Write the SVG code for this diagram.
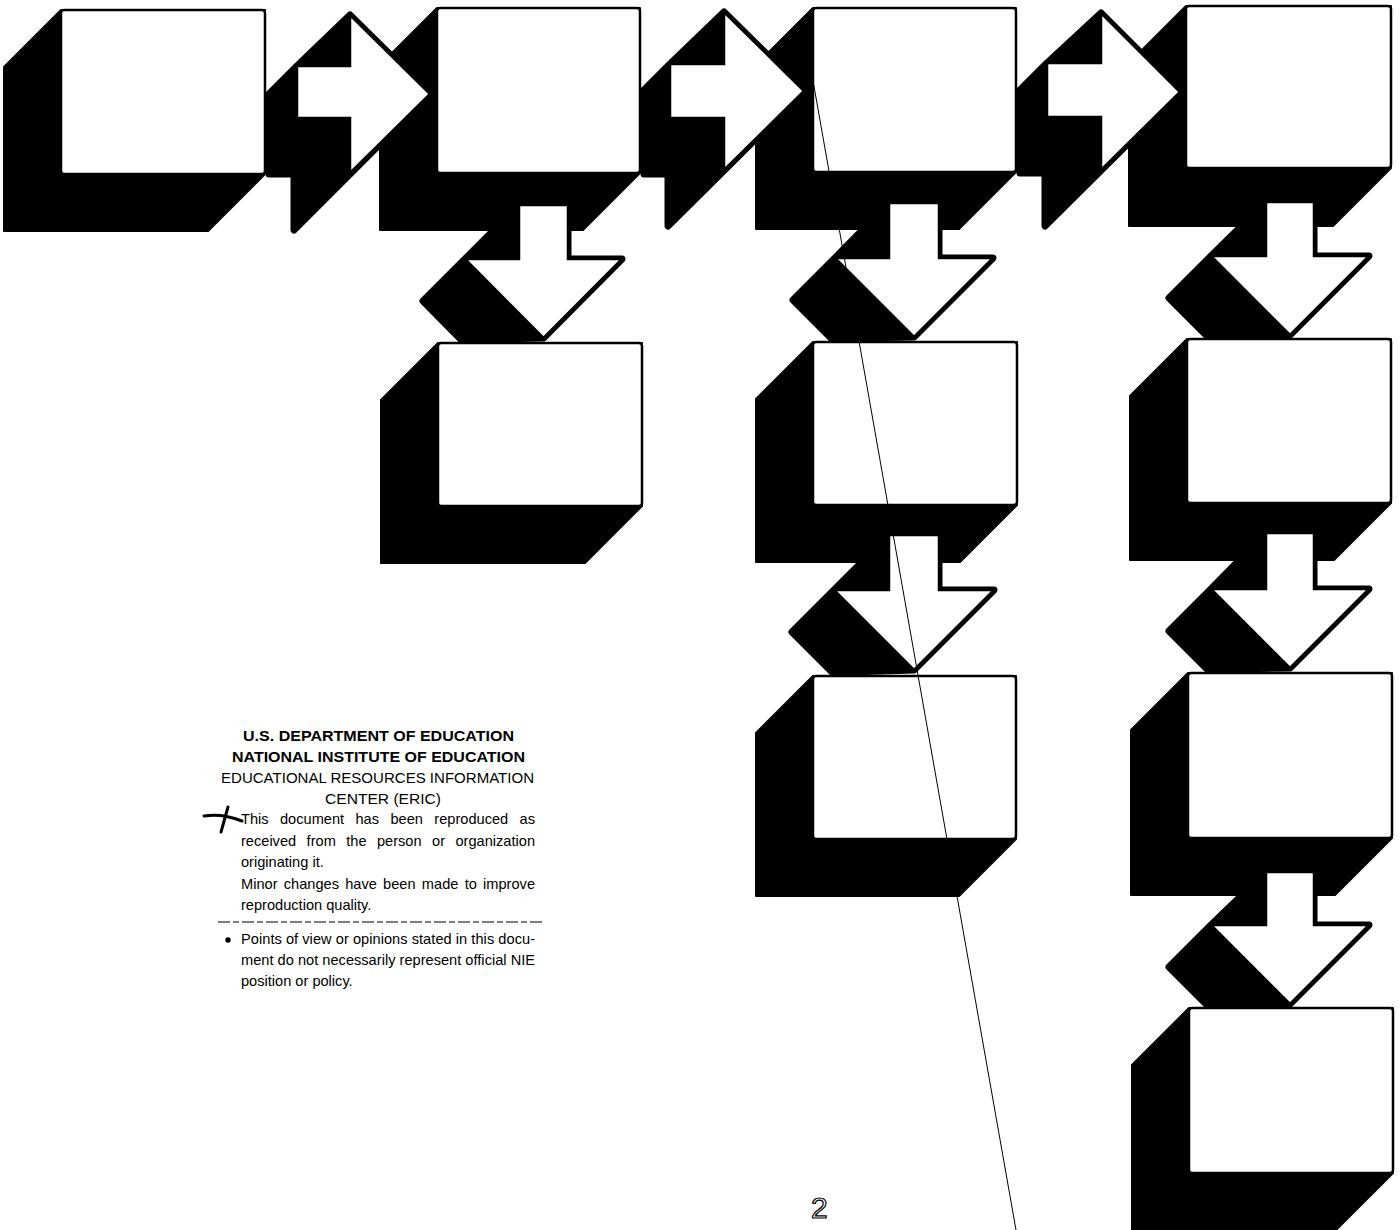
<svg xmlns="http://www.w3.org/2000/svg" width="1400" height="1230" viewBox="0 0 1400 1230">
<style>
  .ext{fill:#000;stroke:#000;stroke-width:2;stroke-linejoin:round}
  .face{fill:#fff;stroke:#000;stroke-width:2.5}
  .aext{fill:#000;stroke:#000;stroke-width:7;stroke-linejoin:round}
  .aface{fill:#fff;stroke:#000;stroke-width:2.5;stroke-linejoin:miter}
  .h1{font-family:"Liberation Sans",Arial,sans-serif;font-weight:bold;font-size:15.2px;fill:#000}
  .h2{font-family:"Liberation Sans",Arial,sans-serif;font-size:15px;fill:#000}
  .b{font-family:"Liberation Sans",Arial,sans-serif;font-size:14.6px;fill:#000}
</style>
<rect x="0" y="0" width="1400" height="1230" fill="#fff"/>

<g id="box-1"><polygon class="ext" points="61,10 265,10 265,174 208,231 4,231 4,67"/><rect class="face" x="61" y="10" width="204" height="164" rx="3"/></g>
<g id="box-2"><polygon class="ext" points="437,8 640,8 640,173 583,230 380,230 380,65"/><rect class="face" x="437" y="8" width="203" height="165" rx="3"/></g>
<g id="box-3"><polygon class="ext" points="813,8 1016,8 1016,172 959,229 756,229 756,65"/><rect class="face" x="813" y="8" width="203" height="164" rx="3"/></g>
<g id="box-4"><polygon class="ext" points="1186,6 1391,6 1391,168 1333,226 1129,226 1129,63"/><rect class="face" x="1186" y="6" width="205" height="162" rx="3"/></g>
<g id="box-5"><polygon class="ext" points="438,343 642,343 642,506 585,563 381,563 381,400"/><rect class="face" x="438" y="343" width="204" height="163" rx="3"/></g>
<g id="box-6"><polygon class="ext" points="813,342 1017,342 1017,505 960,562 756,562 756,399"/><rect class="face" x="813" y="342" width="204" height="163" rx="3"/></g>
<g id="box-7"><polygon class="ext" points="1187,339 1391,339 1391,503 1334,560 1130,560 1130,396"/><rect class="face" x="1187" y="339" width="204" height="164" rx="3"/></g>
<g id="box-8"><polygon class="ext" points="813,676 1016,676 1016,839 959,896 756,896 756,733"/><rect class="face" x="813" y="676" width="203" height="163" rx="3"/></g>
<g id="box-9"><polygon class="ext" points="1188,673 1392,673 1392,838 1335,895 1131,895 1131,730"/><rect class="face" x="1188" y="673" width="204" height="165" rx="3"/></g>
<g id="box-10"><polygon class="ext" points="1189,1008 1393,1008 1393,1173 1336,1230 1132,1230 1132,1065"/><rect class="face" x="1189" y="1008" width="204" height="165" rx="3"/></g>

<g id="connectors">
  <g id="arrow-1-2"><polygon class="aext" points="350,15 430,94 294,230 294,174 269,174 269,94 297,66"/><polygon class="aface" points="297,66 350,66 350,15 430,94 350,173 350,118 297,118"/></g>
  <g id="arrow-2-3"><polygon class="aext" points="724,12 804,91 668,226 668,174 644,174 644,90 670,64"/><polygon class="aface" points="670,64 724,64 724,12 804,91 724,170 724,118 670,118"/></g>
  <g id="arrow-3-4"><polygon class="aext" points="1101,13 1180,92 1045,226 1045,173 1020,173 1020,90 1047,63"/><polygon class="aface" points="1047,63 1101,63 1101,13 1180,92 1101,170 1101,117 1047,117"/></g>
  <g id="arrow-2-5"><polygon class="aext" points="519,205 568,205 568,259 622,259 543.5,338 461,339.5 423,301 465,259"/><polygon class="aface" points="519,205 568,205 568,259 622,259 543.5,338 465,259 519,259"/></g>
  <g id="arrow-3-6"><polygon class="aext" points="889,203 939,203 939,258 993,258 914,337 831.5,338.5 793,300 835,258"/><polygon class="aface" points="889,203 939,203 939,258 993,258 914,337 835,258 889,258"/></g>
  <g id="arrow-4-7"><polygon class="aext" points="1266,202 1314,202 1314,256 1369,256 1290,335 1206.5,335.5 1169,298 1211,256"/><polygon class="aface" points="1266,202 1314,202 1314,256 1369,256 1290,335 1211,256 1266,256"/></g>
  <g id="arrow-6-8"><polygon class="aext" points="889,535 939,535 939,590 994,590 914,670 832.5,672.5 792,632 834,590"/><polygon class="aface" points="889,535 939,535 939,590 994,590 914,670 834,590 889,590"/></g>
  <g id="arrow-7-9"><polygon class="aext" points="1266,533 1314,533 1314,589 1369,589 1290,668 1207.5,669.5 1169,631 1211,589"/><polygon class="aface" points="1266,533 1314,533 1314,589 1369,589 1290,668 1211,589 1266,589"/></g>
  <g id="arrow-9-10"><polygon class="aext" points="1266,872 1314,872 1314,925 1369,925 1290,1004 1206.5,1004.5 1169,967 1211,925"/><polygon class="aface" points="1266,872 1314,872 1314,925 1369,925 1290,1004 1211,925 1266,925"/></g>
</g>

<g id="eric-notice">
  <text class="h1" x="243" y="741" textLength="271" lengthAdjust="spacingAndGlyphs">U.S. DEPARTMENT OF EDUCATION</text>
  <text class="h1" x="232" y="762" textLength="293" lengthAdjust="spacingAndGlyphs">NATIONAL INSTITUTE OF EDUCATION</text>
  <text class="h2" x="221" y="783" textLength="313" lengthAdjust="spacingAndGlyphs">EDUCATIONAL RESOURCES INFORMATION</text>
  <text class="h2" x="325" y="804" textLength="116" lengthAdjust="spacingAndGlyphs">CENTER (ERIC)</text>
  <text class="b" x="241" y="824" word-spacing="7.3" textLength="294" lengthAdjust="spacing">This document has been reproduced as</text>
  <text class="b" x="241" y="846" word-spacing="6.4" textLength="294" lengthAdjust="spacing">received from the person or organization</text>
  <text class="b" x="241" y="867">originating it.</text>
  <text class="b" x="241" y="889" word-spacing="2.2" textLength="294" lengthAdjust="spacing">Minor changes have been made to improve</text>
  <text class="b" x="241" y="910">reproduction quality.</text>
  <line x1="218" y1="922" x2="545" y2="922" stroke="#000" stroke-width="1" stroke-dasharray="12 3 6 3"/>
  <circle cx="228" cy="940" r="2.7" fill="#000"/>
  <text class="b" x="241" y="944" textLength="294" lengthAdjust="spacing">Points of view or opinions stated in this docu-</text>
  <text class="b" x="241" y="965" textLength="294" lengthAdjust="spacing">ment do not necessarily represent official NIE</text>
  <text class="b" x="241" y="986">position or policy.</text>
  <path d="M204,816 Q222,813 242,821" fill="none" stroke="#000" stroke-width="3" stroke-linecap="round"/>
  <path d="M228,807 L221,832" fill="none" stroke="#000" stroke-width="3" stroke-linecap="round"/>
</g>

<text x="811" y="1218" font-family="Liberation Sans, Arial, sans-serif" font-size="30" fill="none" stroke="#000" stroke-width="1.2">2</text>
<line x1="812" y1="75" x2="1016" y2="1230" stroke="#000" stroke-width="1"/>
</svg>
